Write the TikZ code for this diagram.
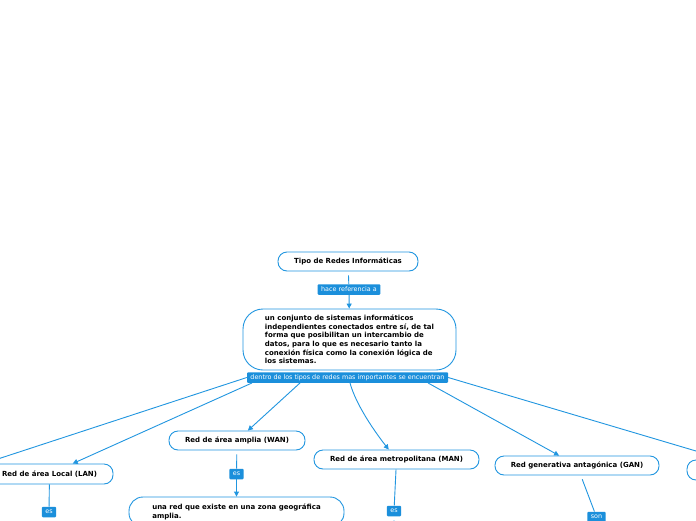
\documentclass[tikz,border=0pt]{standalone}
\usepackage{fontspec}
\setmainfont{DejaVu Sans}
\usetikzlibrary{arrows.meta,calc}

\definecolor{mapblue}{HTML}{2196E0}
\definecolor{tagblue}{HTML}{1B8FDB}

\tikzset{
  topic/.style={draw=mapblue, line width=0.9pt, rounded corners=9pt, fill=white,
    font=\fontsize{7}{8.6}\selectfont\bfseries, inner sep=0pt},
  tag/.style={fill=tagblue, text=white, rounded corners=1pt,
    font=\fontsize{6.4}{7}\selectfont, inner xsep=3.5pt, inner ysep=0pt, minimum height=10.5pt},
  link/.style={draw=mapblue, line width=0.9pt},
  arrowed/.style={-{Triangle[length=5pt,width=5pt]}}
}

\begin{document}
\begin{tikzpicture}[x=1pt,y=-1pt]
\clip (0,0) rectangle (696,520);
\fill[white] (0,0) rectangle (696,520);

% root and its definition
\node[topic, minimum width=140pt, minimum height=19pt] (tipo) at (348,261.5) {Tipo de Redes Informáticas};
\node[tag] (lblA) at (349,289.5) {hace referencia a};
\node[topic, rounded corners=20pt, minimum width=213pt, minimum height=61pt, align=left] (main) at (349.5,339.5)
  {un conjunto de sistemas informáticos\\
   independientes conectados entre sí, de tal\\
   forma que posibilitan un intercambio de\\
   datos, para lo que es necesario tanto la\\
   conexión física como la conexión lógica de\\
   los sistemas.};
\node[tag] (lblB) at (347.5,377.5) {dentro de los tipos de redes mas importantes se encuentran};

% kinds of networks
\node[topic, minimum width=127pt, minimum height=20pt] (lan) at (49.5,474) {Red de área Local (LAN)};
\node[topic, minimum width=136pt, minimum height=19pt] (wan) at (237,440.5) {Red de área amplia (WAN)};
\node[topic, minimum width=165pt, minimum height=19pt] (man) at (396.5,459.5) {Red de área metropolitana (MAN)};
\node[topic, minimum width=164pt, minimum height=19pt] (gan) at (577,465.5) {Red generativa antagónica (GAN)};
\node[topic, minimum width=146pt, minimum height=20pt] (rgt) at (760,470) {};
\coordinate (offL) at (-100,491);

% second level
\node[tag] (esLAN) at (49,512) {es};
\node[tag] (esWAN) at (236.5,474) {es};
\node[tag] (esMAN) at (394,511) {es};
\node[tag] (sonGAN) at (596.5,517) {son};
\node[topic, rounded corners=14pt, minimum width=215pt, minimum height=30pt, align=left] (wanDef) at (236.5,512)
  {una red que existe en una zona geográfica\\amplia.};
\coordinate (lanEnd) at (49,540);
\coordinate (manEnd) at (394,540);

% connectors
\draw[link, shorten <=4pt] (tipo) -- (lblA);
\draw[link, arrowed] (lblA) -- (main);
\draw[link] (lblB.west) -- (offL);
\draw[link, arrowed] ($(lblB.south)+(-95.5,0)$) -- (lan);
\draw[link, arrowed] ($(lblB.south)+(-47.5,0)$) -- (wan);
\draw[link, arrowed] ($(lblB.south)+(2.5,0)$) .. controls (356,405) and (375,432) .. (man);
\draw[link, arrowed] ($(lblB.south)+(80.5,0)$) -- (gan);
\draw[link] (lblB.east) -- (rgt);

\draw[link, shorten <=4pt] (lan) -- (esLAN) -- (lanEnd);
\draw[link, shorten <=4pt] (wan) -- (esWAN);
\draw[link, arrowed] (esWAN) -- (wanDef);
\draw[link, shorten <=4pt] (man) -- (esMAN) -- (manEnd);
\draw[link, shorten <=4pt] (gan) -- (sonGAN);
\end{tikzpicture}
\end{document}
